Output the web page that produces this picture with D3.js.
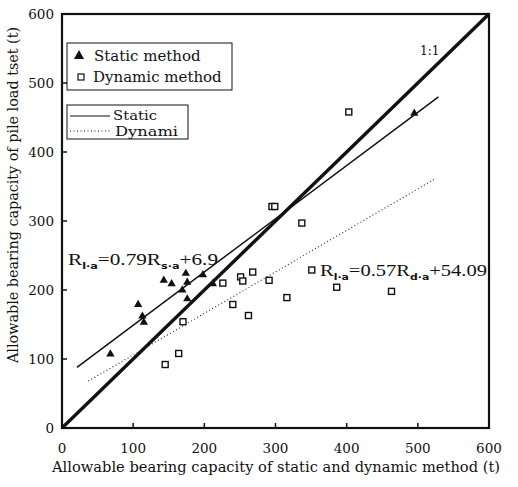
<!DOCTYPE html>
<html>
<head>
<meta charset="utf-8">
<script src="https://cdn.jsdelivr.net/npm/d3@7"></script>
<style>
  body { margin: 0; background: #fff; }
  text { font-family: "DejaVu Serif", "Liberation Serif", serif; fill: #111; }
</style>
</head>
<body>
<svg id="chart" width="518" height="487"></svg>
<script>
// values (t)
const axisTicks = [0, 100, 200, 300, 400, 500, 600];
const staticX = [68, 107, 113, 115, 143, 154, 174, 176, 169, 176, 198, 212, 495];
const staticY = [107, 179, 162, 153, 214, 209, 224, 211, 200, 187, 222, 209, 456];
const dynamicX = [145, 164, 170, 226, 240, 251, 254, 268, 262, 291, 316, 351, 386, 463, 295, 299, 337, 403];
const dynamicY = [92, 108, 154, 210, 179, 219, 213, 226, 163, 214, 189, 229, 204, 198, 321, 321, 297, 458];
const oneToOne = [[0, 0], [600, 600]];
const staticFit = [[21, 88], [529, 480]];
const dynamicFit = [[37, 68], [524, 361]];

const svg = d3.select("#chart");
const x = d3.scaleLinear().domain([0, 600]).range([62, 489]);
const y = d3.scaleLinear().domain([0, 600]).range([428, 14]);

// frame
svg.append("rect")
  .attr("x", x(0)).attr("y", y(600))
  .attr("width", x(600) - x(0)).attr("height", y(0) - y(600))
  .attr("fill", "none").attr("stroke", "#111").attr("stroke-width", 2.2);

// inward ticks
const inner = axisTicks.slice(1, -1);
svg.selectAll(".xt").data(inner).enter().append("line")
  .attr("x1", d => x(d)).attr("x2", d => x(d))
  .attr("y1", y(0)).attr("y2", y(0) - 5)
  .attr("stroke", "#111").attr("stroke-width", 1.5);
svg.selectAll(".yt").data(inner).enter().append("line")
  .attr("y1", d => y(d)).attr("y2", d => y(d))
  .attr("x1", x(0)).attr("x2", x(0) + 5)
  .attr("stroke", "#111").attr("stroke-width", 1.5);

// tick labels
svg.selectAll(".xl").data(axisTicks).enter().append("text")
  .attr("x", d => x(d)).attr("y", 453)
  .attr("text-anchor", "middle").style("font-size", "13.5px")
  .text(d => d);
svg.selectAll(".yl").data(axisTicks).enter().append("text")
  .attr("x", 54).attr("y", d => y(d) + 5)
  .attr("text-anchor", "end").style("font-size", "13.5px")
  .text(d => d);

// axis titles
svg.append("text")
  .attr("x", 52).attr("y", 472)
  .attr("textLength", 448).attr("lengthAdjust", "spacingAndGlyphs")
  .style("font-size", "14px")
  .text("Allowable bearing capacity of static and dynamic method (t)");
svg.append("text")
  .attr("transform", "translate(18,363) rotate(-90)")
  .attr("textLength", 336).attr("lengthAdjust", "spacingAndGlyphs")
  .style("font-size", "14px")
  .text("Allowable bearing capacity of pile load tset (t)");

const line = d3.line().x(d => x(d[0])).y(d => y(d[1]));

// 1:1, static and dynamic fits
svg.append("path").attr("d", line(oneToOne))
  .attr("fill", "none").attr("stroke", "#111").attr("stroke-width", 3.4);
svg.append("path").attr("d", line(staticFit))
  .attr("fill", "none").attr("stroke", "#111").attr("stroke-width", 1.5);
svg.append("path").attr("d", line(dynamicFit))
  .attr("fill", "none").attr("stroke", "#222").attr("stroke-width", 1.1)
  .attr("stroke-dasharray", "1,2.5");

svg.append("text").attr("x", 420).attr("y", 55)
  .style("font-size", "12px").text("1:1");

// points
const tri = d3.symbol().type(d3.symbolTriangle).size(30);
svg.selectAll(".tri").data(staticX).enter().append("path")
  .attr("d", tri)
  .attr("transform", (d, i) => `translate(${x(d)},${y(staticY[i])})`)
  .attr("fill", "#111");

svg.selectAll(".sq").data(dynamicX).enter().append("rect")
  .attr("x", d => x(d) - 3).attr("y", (d, i) => y(dynamicY[i]) - 3)
  .attr("width", 6).attr("height", 6)
  .attr("fill", "#fff").attr("stroke", "#111").attr("stroke-width", 1.4);

// equations, subscripts in small bold sans
function equation(xPos, yPos, width, parts) {
  const t = svg.append("text").attr("x", xPos).attr("y", yPos)
    .attr("textLength", width).attr("lengthAdjust", "spacingAndGlyphs")
    .style("font-size", "17px").style("font-family", "Liberation Serif, serif");
  let down = false;
  parts.forEach(p => {
    if (p.sub) {
      t.append("tspan").attr("dy", 4)
        .style("font-size", "9px").style("font-weight", "bold")
        .style("font-family", "DejaVu Sans, sans-serif").text(p.sub);
      down = true;
    } else {
      t.append("tspan").attr("dy", down ? -4 : 0).text(p.txt);
      down = false;
    }
  });
}
equation(68, 265, 150, [{txt: "R"}, {sub: "l·a"}, {txt: "=0.79R"}, {sub: "s·a"}, {txt: "+6.9"}]);
equation(320, 276, 167, [{txt: "R"}, {sub: "l·a"}, {txt: "=0.57R"}, {sub: "d·a"}, {txt: "+54.09"}]);

// legend boxes
const leg1 = svg.append("g");
leg1.append("rect").attr("x", 67).attr("y", 43).attr("width", 165).attr("height", 47)
  .attr("fill", "#fff").attr("stroke", "#111").attr("stroke-width", 1);
leg1.append("path").attr("d", d3.symbol().type(d3.symbolTriangle).size(45))
  .attr("transform", "translate(79,56)").attr("fill", "#111");
leg1.append("text").attr("x", 94).attr("y", 61).style("font-size", "15px").text("Static method");
leg1.append("rect").attr("x", 78).attr("y", 74).attr("width", 6).attr("height", 6)
  .attr("fill", "#fff").attr("stroke", "#111").attr("stroke-width", 1.2);
leg1.append("text").attr("x", 93).attr("y", 82).style("font-size", "15px").text("Dynamic method");

const leg2 = svg.append("g");
leg2.append("rect").attr("x", 67).attr("y", 105).attr("width", 121).attr("height", 34)
  .attr("fill", "#fff").attr("stroke", "#111").attr("stroke-width", 1);
leg2.append("line").attr("x1", 70).attr("x2", 110).attr("y1", 116).attr("y2", 116)
  .attr("stroke", "#111").attr("stroke-width", 1.2);
leg2.append("text").attr("x", 113).attr("y", 120).style("font-size", "13px")
  .attr("textLength", 44).attr("lengthAdjust", "spacingAndGlyphs").text("Static");
leg2.append("line").attr("x1", 70).attr("x2", 112).attr("y1", 131).attr("y2", 131)
  .attr("stroke", "#111").attr("stroke-width", 1.2).attr("stroke-dasharray", "1,2.5");
leg2.append("text").attr("x", 115).attr("y", 135.5).style("font-size", "13px")
  .attr("textLength", 63).attr("lengthAdjust", "spacingAndGlyphs").text("Dynami");
</script>
</body>
</html>
